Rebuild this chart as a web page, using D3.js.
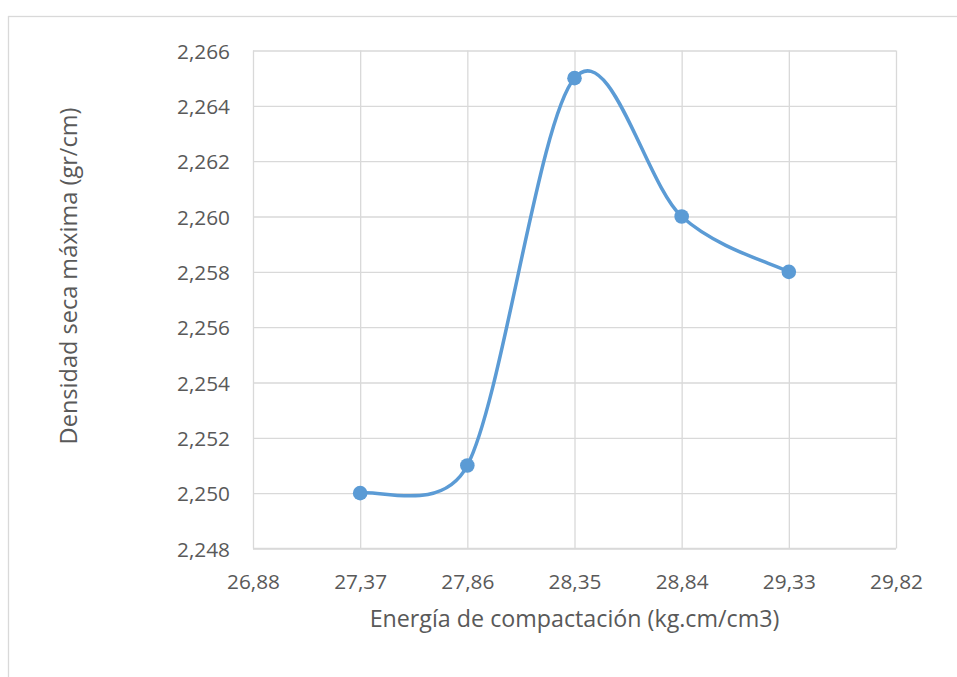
<!DOCTYPE html>
<html><head><meta charset="utf-8">
<script src="https://cdn.jsdelivr.net/npm/d3@7"></script>
<style>body{margin:0;background:#fff;overflow:hidden}</style>
</head><body>
<svg id="c" width="957" height="677"></svg>
<script>
// ---- data ----
const xTicks = [26.88, 27.37, 27.86, 28.35, 28.84, 29.33, 29.82];
const yTicks = [2.248, 2.250, 2.252, 2.254, 2.256, 2.258, 2.260, 2.262, 2.264, 2.266];
const energia = [27.37, 27.86, 28.35, 28.84, 29.33];
const densidad = [2.250, 2.251, 2.265, 2.260, 2.258];
const xTitle = "Energía de compactación (kg.cm/cm3)";
const yTitle = "Densidad seca máxima (gr/cm)";

(function () {
const FONT = "'Open Sans', 'Noto Sans', sans-serif";
const TXT = "#595959", GRID = "#d9d9d9", LINE = "#5b9bd5";
const pL = 253, pR = 896, pT = 50.5, pB = 548.5;

const svg = d3.select("#c");
svg.append("rect").attr("x", 8.5).attr("y", 16.5).attr("width", 1200).attr("height", 1200)
  .attr("fill", "#fff").attr("stroke", GRID).attr("stroke-width", 1.3);

const x = d3.scaleLinear().domain([xTicks[0], xTicks[xTicks.length-1]]).range([pL, pR]);
const y = d3.scaleLinear().domain([yTicks[0], yTicks[yTicks.length-1]]).range([pB, pT]);

const loc = d3.formatLocale({decimal: ",", thousands: ".", grouping: [3], currency: ["", "€"]});
const fx = loc.format(".2f"), fy = loc.format(".3f");

function fit(sel, target) {
  const w = sel.node().getComputedTextLength();
  const fs = parseFloat(sel.attr("font-size"));
  sel.attr("font-size", fs * target / w);
}

const gy = svg.append("g").attr("transform", `translate(${pL},0)`)
  .call(d3.axisLeft(y).tickValues(yTicks).tickSize(-(pR-pL)).tickFormat(fy).tickPadding(23));
const gx = svg.append("g").attr("transform", `translate(0,${pB})`)
  .call(d3.axisBottom(x).tickValues(xTicks).tickSize(-(pB-pT)).tickFormat(fx).tickPadding(25));
[gy, gx].forEach(g => {
  g.select(".domain").remove();
  g.selectAll(".tick line").attr("stroke", GRID).attr("stroke-width", 1.3);
  g.selectAll(".tick text").attr("fill", TXT).attr("font-family", FONT).attr("font-size", 20);
});
gy.selectAll(".tick text").attr("dy", "0.36em");
gx.selectAll(".tick text").attr("dy", "0.71em").attr("y", 26);
const probe = svg.append("text").attr("font-family", FONT).attr("font-size", 20).text(fy(yTicks[9]));
fit(probe, 53);
const tickFs = probe.attr("font-size");
probe.remove();
svg.selectAll(".tick text").attr("font-size", tickFs);
svg.append("line").attr("x1", pL).attr("x2", pR).attr("y1", pB).attr("y2", pB)
  .attr("stroke", GRID).attr("stroke-width", 1.3);

// Excel-style smoothed line
const pts = energia.map((e, i) => [x(e), y(densidad[i])]);
const dist = (a, b) => Math.hypot(a[0]-b[0], a[1]-b[1]);
const p = d3.path();
p.moveTo(pts[0][0], pts[0][1]);
for (let i = 0; i < pts.length - 1; i++) {
  const P0 = pts[Math.max(0, i-1)], P1 = pts[i], P2 = pts[i+1], P3 = pts[Math.min(pts.length-1, i+2)];
  const d12 = dist(P1, P2), d02 = dist(P0, P2), d13 = dist(P1, P3);
  let f0 = 1/6, f1 = 1/6;
  if (d02/6 >= d12/2) f0 = d12/d02/2;
  if (d13/6 >= d12/2) f1 = d12/d13/2;
  const b1 = [P1[0] + (P2[0]-P0[0])*f0, P1[1] + (P2[1]-P0[1])*f0];
  const b2 = [P2[0] - (P3[0]-P1[0])*f1, P2[1] - (P3[1]-P1[1])*f1];
  p.bezierCurveTo(b1[0], b1[1], b2[0], b2[1], P2[0], P2[1]);
}
svg.append("path").attr("d", p.toString()).attr("fill", "none")
  .attr("stroke", LINE).attr("stroke-width", 3.5).attr("stroke-linecap", "round");
svg.append("g").selectAll("circle").data(energia).join("circle")
  .attr("cx", d => x(d)).attr("cy", (d, i) => y(densidad[i])).attr("r", 7.3).attr("fill", LINE);

const xt = svg.append("text").attr("x", (pL+pR)/2).attr("y", 627).attr("text-anchor", "middle")
  .attr("font-family", FONT).attr("font-size", 22).attr("fill", TXT).text(xTitle);
fit(xt, 410);
const yt = svg.append("text").attr("transform", "translate(77,276) rotate(-90)").attr("text-anchor", "middle")
  .attr("font-family", FONT).attr("font-size", 22).attr("fill", TXT).text(yTitle);
fit(yt, 337);
})();
</script>
</body></html>
